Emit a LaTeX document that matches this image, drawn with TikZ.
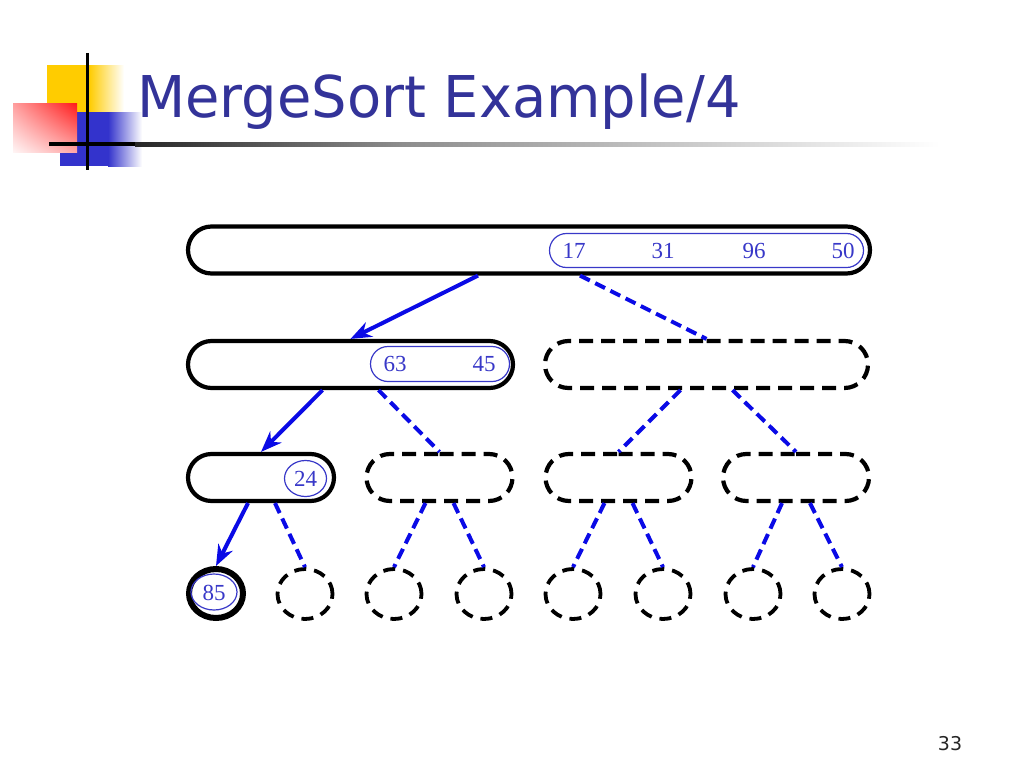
\documentclass[tikz,border=0pt]{standalone}
\usepackage{fontspec}
\setmainfont{Liberation Serif}
\newfontfamily\titlefont{DejaVu Sans}
\usetikzlibrary{shapes.misc,shapes.geometric,arrows.meta,shadings}
\definecolor{titleblue}{HTML}{333399}
\definecolor{numblue}{HTML}{3838C8}
\definecolor{lineblue}{HTML}{0A0AE6}
\definecolor{logoyellow}{HTML}{FFCC00}
\definecolor{logoblue}{HTML}{3333CC}
\definecolor{logored}{HTML}{FF1919}
\begin{document}
\begin{tikzpicture}[x=1pt,y=-1pt,
  box/.style={rounded rectangle, draw=black, line width=4.2pt, minimum height=47pt, inner sep=0pt},
  dbox/.style={box, dash pattern=on 14pt off 8pt},
  leaf/.style={ellipse, draw=black, line width=3.8pt, minimum width=55pt, minimum height=50pt, inner sep=0pt, dash pattern=on 12pt off 8pt},
  innerbox/.style={rounded rectangle, draw=numblue, line width=1.2pt, minimum height=35pt, inner sep=0pt},
  innerell/.style={ellipse, draw=numblue, line width=1.2pt, inner sep=0pt},
  num/.style={font=\fontsize{23}{23}\selectfont, text=numblue, inner sep=0pt},
  done/.style={draw=lineblue, line width=4pt, -{Stealth[length=21pt,width=16pt]}},
  todo/.style={draw=lineblue, line width=4pt, dash pattern=on 11pt off 6pt}]
\useasboundingbox (0,0) rectangle (1024,768);
\fill[white] (0,0) rectangle (1024,768);

% logo
\fill[logoyellow] (47,65) rectangle (89,112);
\shade[left color=logoyellow, right color=white] (89,65) rectangle (124,112);
\fill[logoblue] (60,112) rectangle (108,166);
\shade[left color=logoblue, right color=white] (108,112) rectangle (142,166);
\shade[upper right=logored, upper left=red!38!white,
       lower right=red!35!white, lower left=red!4!white] (13,103) rectangle (77,152);
\fill[black] (49,142) rectangle (135,146);
\shade[left color=black!85, right color=black!45] (135,142) rectangle (400,146);
\shade[left color=black!45, right color=white] (400,142) rectangle (940,146);
\draw[line width=3pt] (87,53) -- (87,170);

% title and page number
\node[anchor=base west, inner sep=0pt, text=titleblue, font=\titlefont\fontsize{57.6}{60}\selectfont] (title) at (137,117) {\scalebox{0.97}[1]{MergeSort Example/4}};
\node[inner sep=0pt, font=\titlefont\fontsize{19}{19}\selectfont, text=black!85] (page) at (950,744) {33};

% row 1
\node[box, minimum width=682pt] (r1) at (529,250) {};
\node[innerbox, minimum width=314pt, minimum height=34pt] (i1) at (706.5,250.5) {};
\node[num] (n17) at (574,251) {17};
\node[num] (n31) at (663,251) {31};
\node[num] (n96) at (754,251) {96};
\node[num] (n50) at (843,251) {50};

% row 2
\node[box, minimum width=325pt] (r2a) at (350.5,364.5) {};
\node[dbox, minimum width=323pt] (r2b) at (706.5,364.5) {};
\node[innerbox, minimum width=139pt] (i2) at (440,364) {};
\node[num] (n63) at (395,364) {63};
\node[num] (n45) at (484,364) {45};

% row 3
\node[box, minimum width=146pt] (r3a) at (261,477.5) {};
\node[dbox, minimum width=146pt] (r3b) at (439.5,477.5) {};
\node[dbox, minimum width=146pt] (r3c) at (618.5,477.5) {};
\node[dbox, minimum width=146pt] (r3d) at (796,477.5) {};
\node[innerell, minimum width=42pt, minimum height=36pt] (i3) at (305.5,478.5) {};
\node[num] (n24) at (305.5,478.5) {24};

% row 4
\node[ellipse, draw=black, line width=6pt, minimum width=54pt, minimum height=49pt, inner sep=0pt] (l1) at (216,593.5) {};
\node[innerell, minimum width=46pt, minimum height=36pt] (i4) at (214,592) {};
\node[num] (n85) at (214,593) {85};
\node[leaf] (l2) at (305,594) {};
\node[leaf] (l3) at (394,594) {};
\node[leaf] (l4) at (484,594) {};
\node[leaf] (l5) at (573,594) {};
\node[leaf] (l6) at (663,594) {};
\node[leaf] (l7) at (753,594) {};
\node[leaf] (l8) at (842,594) {};

% connectors
\draw[done] ([xshift=-51pt]r1.south) -- (r2a.north);
\draw[todo] ([xshift=51pt]r1.south) -- (r2b.north);
\draw[done] ([xshift=-28pt]r2a.south) -- (r3a.north);
\draw[todo] ([xshift=28pt]r2a.south) -- (r3b.north);
\draw[todo] ([xshift=-26pt]r2b.south) -- (r3c.north);
\draw[todo] ([xshift=26pt]r2b.south) -- (r3d.north);
\draw[done] ([xshift=-13pt]r3a.south) -- (l1.north);
\draw[todo] ([xshift=14pt]r3a.south) -- (l2.north);
\draw[todo] ([xshift=-14pt]r3b.south) -- (l3.north);
\draw[todo] ([xshift=14pt]r3b.south) -- (l4.north);
\draw[todo] ([xshift=-14pt]r3c.south) -- (l5.north);
\draw[todo] ([xshift=14pt]r3c.south) -- (l6.north);
\draw[todo] ([xshift=-14pt]r3d.south) -- (l7.north);
\draw[todo] ([xshift=14pt]r3d.south) -- (l8.north);
\end{tikzpicture}
\end{document}
